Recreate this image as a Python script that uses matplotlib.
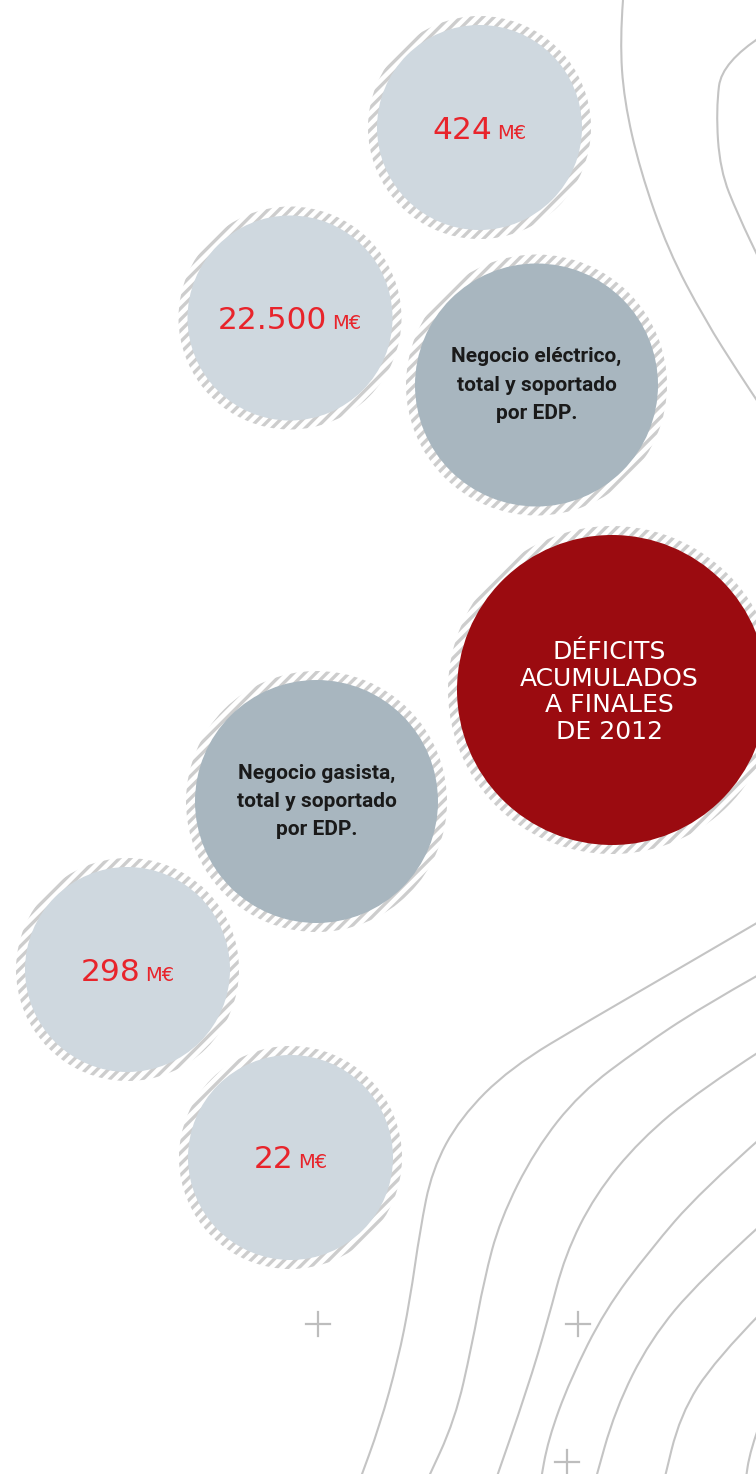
import matplotlib
matplotlib.use("Agg")
import matplotlib.pyplot as plt
from matplotlib.path import Path
from matplotlib.patches import PathPatch, Circle

# valores de los circulos claros (M€)
values = ["424", "22.500", "298", "22"]
unit = "M€"
# etiquetas de los circulos oscuros
labels = ["Negocio eléctrico,\ntotal y soportado\npor EDP.",
          "Negocio gasista,\ntotal y soportado\npor EDP."]
title = "DÉFICITS\nACUMULADOS\nA FINALES\nDE 2012"

# disposicion (pixeles)
value_pos = [(479.5, 127.5), (290, 318), (127.5, 969.5), (290.5, 1157.5)]
label_pos = [(536.5, 385), (316.5, 801.5)]
title_pos = (612, 690)
r_small, r_mid, r_big = 102.5, 121.5, 155

# curvas de nivel decorativas (puntos de control)
contours = [
    [(623, 0), (620, 40), (624, 100), (640, 170), (668, 250), (705, 320), (740, 375), (762, 408)],
    [(762, 36), (722, 62), (716, 110), (720, 170), (738, 215), (762, 265)],
    [(762, 920), (680, 968), (590, 1020), (510, 1068), (460, 1118), (432, 1170), (420, 1230),
     (410, 1300), (398, 1360), (380, 1425), (358, 1485)],
    [(762, 973), (700, 1008), (640, 1048), (580, 1093), (535, 1150), (500, 1220), (484, 1280),
     (472, 1345), (455, 1420), (425, 1485)],
    [(762, 1050), (700, 1090), (640, 1140), (595, 1195), (565, 1255), (548, 1320), (527, 1390),
     (494, 1485)],
    [(762, 1137), (700, 1192), (650, 1250), (605, 1310), (570, 1380), (548, 1440), (540, 1485)],
    [(762, 1224), (700, 1280), (650, 1340), (615, 1410), (594, 1485)],
    [(762, 1312), (715, 1360), (680, 1415), (663, 1485)],
    [(762, 1418), (750, 1450), (745, 1485)],
]
plus_pos = [(318, 1324), (578, 1324), (567, 1462)]

c_light = "#cfd8df"
c_dark = "#a8b6bf"
c_red = "#9b0b10"
c_num = "#e8242b"
c_line = "#c4c4c4"
c_hatch = "#cdcdcd"

plt.rcParams['hatch.linewidth'] = 2.4

fig = plt.figure(figsize=(7.56, 14.74), dpi=100)
ax = fig.add_axes([0, 0, 1, 1])
ax.set_xlim(0, 756)
ax.set_ylim(1474, 0)
ax.axis("off")


def smooth_path(pts):
    verts = [pts[0]]
    codes = [Path.MOVETO]
    for i in range(1, len(pts) - 1):
        mid = ((pts[i][0] + pts[i + 1][0]) / 2, (pts[i][1] + pts[i + 1][1]) / 2)
        verts += [pts[i], mid]
        codes += [Path.CURVE3, Path.CURVE3]
    verts.append(pts[-1])
    codes.append(Path.LINETO)
    return Path(verts, codes)


for pts in contours:
    ax.add_patch(PathPatch(smooth_path(pts), fill=False, edgecolor=c_line, lw=1.5, zorder=1))

for (px, py) in plus_pos:
    ax.plot([px - 12, px + 12], [py, py], color="#bdbdbd", lw=1.6, zorder=1)
    ax.plot([px, px], [py - 12, py + 12], color="#bdbdbd", lw=1.6, zorder=1)


def disc(cx, cy, r, color):
    ax.add_patch(Circle((cx, cy), r + 9, facecolor="none", edgecolor=c_hatch,
                        hatch="///", lw=0, zorder=2))
    ax.add_patch(Circle((cx, cy), r, facecolor=color, edgecolor="none", zorder=3))


for (cx, cy) in value_pos:
    disc(cx, cy, r_small, c_light)
for (cx, cy) in label_pos:
    disc(cx, cy, r_mid, c_dark)
disc(title_pos[0], title_pos[1], r_big, c_red)

fig.canvas.draw()
renderer = fig.canvas.get_renderer()
for val, (cx, cy) in zip(values, value_pos):
    t1 = ax.text(0, cy + 11, val, fontsize=22.5, color=c_num, family="DejaVu Sans",
                 ha="left", va="baseline", zorder=4)
    t2 = ax.text(0, cy + 11, unit, fontsize=14, color=c_num, family="DejaVu Sans",
                 ha="left", va="baseline", zorder=4)
    w1 = t1.get_window_extent(renderer).width
    w2 = t2.get_window_extent(renderer).width
    gap = 5
    left = cx - (w1 + gap + w2) / 2
    t1.set_x(left)
    t2.set_x(left + w1 + gap)

for lab, (cx, cy) in zip(labels, label_pos):
    ax.text(cx, cy, lab, fontsize=15, fontweight="bold", family="Roboto", color="#1a1a1a",
            ha="center", va="center", linespacing=1.62, zorder=4)

ax.text(title_pos[0] - 3, title_pos[1] + 2, title, fontsize=18, color="white", family="DejaVu Sans",
        ha="center", va="center", linespacing=1.15, zorder=4)

fig.savefig("out.png", dpi=100)
